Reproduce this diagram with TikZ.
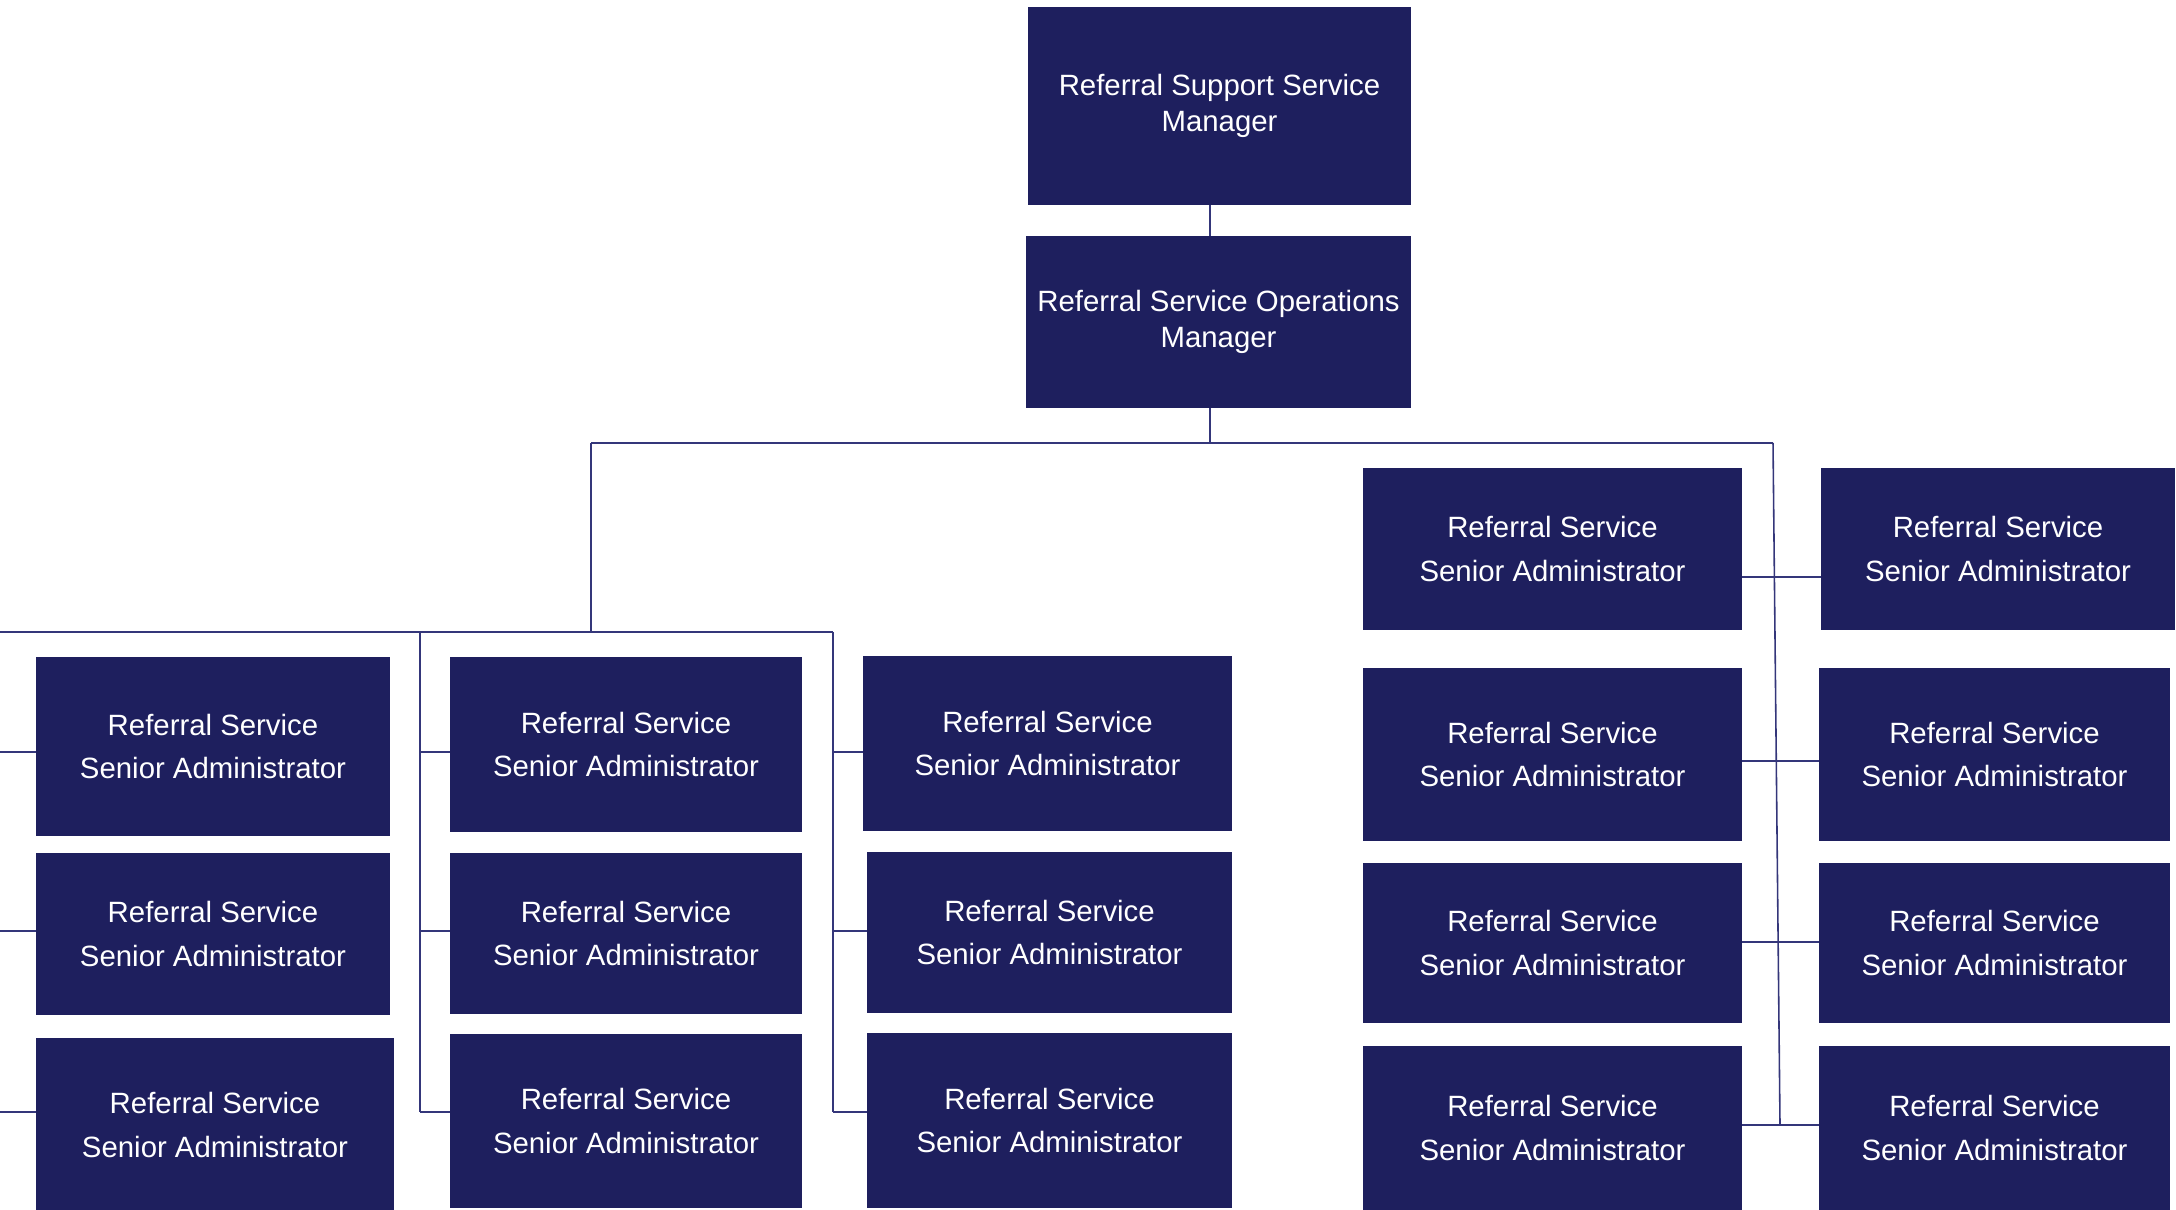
\documentclass[tikz,border=0pt]{standalone}
\usepackage{fontspec}
\setmainfont{Liberation Sans}
\usepackage{xcolor}
\usepackage{tikz}
\usetikzlibrary{
  positioning,
  calc
}
\definecolor{rsNavy}{HTML}{1E1F5E}
\definecolor{rsLine}{HTML}{34367A}
\newcommand{\rssa}{Referral Service\\Senior Administrator}
\tikzset{
  rsnode/.style={
    fill=rsNavy, draw=none, text=white, align=center,
    inner sep=0pt, outer sep=0pt
  },
  mgrbox/.style={rsnode, font=\fontsize{8.35}{10.2}\selectfont},
  sabox/.style={rsnode, font=\fontsize{8.35}{12.5}\selectfont},
  link/.style={line width=0.45pt, rsLine}
}
\begin{document}
\begin{tikzpicture}[x=0.01cm, y=-0.01cm]
  \useasboundingbox (0,0) rectangle (2176,1210);
  % managers
  \node[mgrbox, minimum width=3.83cm, minimum height=1.97cm] (top) at (1219.5,106) {Referral Support Service\\Manager};
  \node[mgrbox, minimum width=3.85cm, minimum height=1.72cm] (ops) at (1218.5,322) {Referral Service Operations\\Manager};
  % left group
  \node[sabox, minimum width=3.54cm, minimum height=1.79cm] (a1) at (213,746.5) {\rssa};
  \node[sabox, minimum width=3.54cm, minimum height=1.62cm] (a2) at (213,934) {\rssa};
  \node[sabox, minimum width=3.58cm, minimum height=1.74cm] (a3) at (215,1125) {\rssa};
  \node[sabox, minimum width=3.52cm, minimum height=1.75cm] (b1) at (626,744.5) {\rssa};
  \node[sabox, minimum width=3.52cm, minimum height=1.61cm] (b2) at (626,933.5) {\rssa};
  \node[sabox, minimum width=3.52cm, minimum height=1.74cm] (b3) at (626,1121) {\rssa};
  \node[sabox, minimum width=3.69cm, minimum height=1.75cm] (c1) at (1047.5,743.5) {\rssa};
  \node[sabox, minimum width=3.65cm, minimum height=1.61cm] (c2) at (1049.5,932.5) {\rssa};
  \node[sabox, minimum width=3.65cm, minimum height=1.75cm] (c3) at (1049.5,1120.5) {\rssa};
  % right group
  \node[sabox, minimum width=3.79cm, minimum height=1.62cm] (d1) at (1552.5,549) {\rssa};
  \node[sabox, minimum width=3.79cm, minimum height=1.73cm] (d2) at (1552.5,754.5) {\rssa};
  \node[sabox, minimum width=3.79cm, minimum height=1.60cm] (d3) at (1552.5,943) {\rssa};
  \node[sabox, minimum width=3.79cm, minimum height=1.64cm] (d4) at (1552.5,1128) {\rssa};
  \node[sabox, minimum width=3.54cm, minimum height=1.62cm] (e1) at (1998,549) {\rssa};
  \node[sabox, minimum width=3.51cm, minimum height=1.73cm] (e2) at (1994.5,754.5) {\rssa};
  \node[sabox, minimum width=3.51cm, minimum height=1.60cm] (e3) at (1994.5,943) {\rssa};
  \node[sabox, minimum width=3.51cm, minimum height=1.64cm] (e4) at (1994.5,1128) {\rssa};
  % junctions
  \coordinate (trunk) at (1210,443);
  \coordinate (busL) at (591,443);
  \coordinate (busR) at (1773,443);
  \coordinate (subL) at (591,632);
  \coordinate (edgeA) at (0,632);
  \coordinate (colB) at (420,632);
  \coordinate (colC) at (833,632);
  \coordinate (row1) at (0,752);
  \coordinate (row2) at (0,931);
  \coordinate (row3) at (0,1112);
  \coordinate (rrow1) at (0,577);
  \coordinate (rrow2) at (0,761);
  \coordinate (rrow3) at (0,942);
  \coordinate (rbot) at (1780,1125);
  % connectors
  \draw[link] (top.south -| trunk) -- (ops.north -| trunk);
  \draw[link] (ops.south -| trunk) -- (trunk);
  \draw[link] (busL) -- (busR);
  \draw[link] (busL) -- (subL);
  \draw[link] (edgeA) -- (colC);
  \draw[link] (colB) -- (colB |- row3);
  \draw[link] (colC) -- (colC |- row3);
  \draw[link] (row1) -- (a1.west |- row1);
  \draw[link] (row2) -- (a2.west |- row2);
  \draw[link] (row3) -- (a3.west |- row3);
  \draw[link] (colB |- row1) -- (b1.west |- row1);
  \draw[link] (colB |- row2) -- (b2.west |- row2);
  \draw[link] (colB |- row3) -- (b3.west |- row3);
  \draw[link] (colC |- row1) -- (c1.west |- row1);
  \draw[link] (colC |- row2) -- (c2.west |- row2);
  \draw[link] (colC |- row3) -- (c3.west |- row3);
  \draw[link] (busR) -- (rbot);
  \draw[link] (d1.east |- rrow1) -- (e1.west |- rrow1);
  \draw[link] (d2.east |- rrow2) -- (e2.west |- rrow2);
  \draw[link] (d3.east |- rrow3) -- (e3.west |- rrow3);
  \draw[link] (d4.east |- rbot) -- (e4.west |- rbot);
\end{tikzpicture}
\end{document}
